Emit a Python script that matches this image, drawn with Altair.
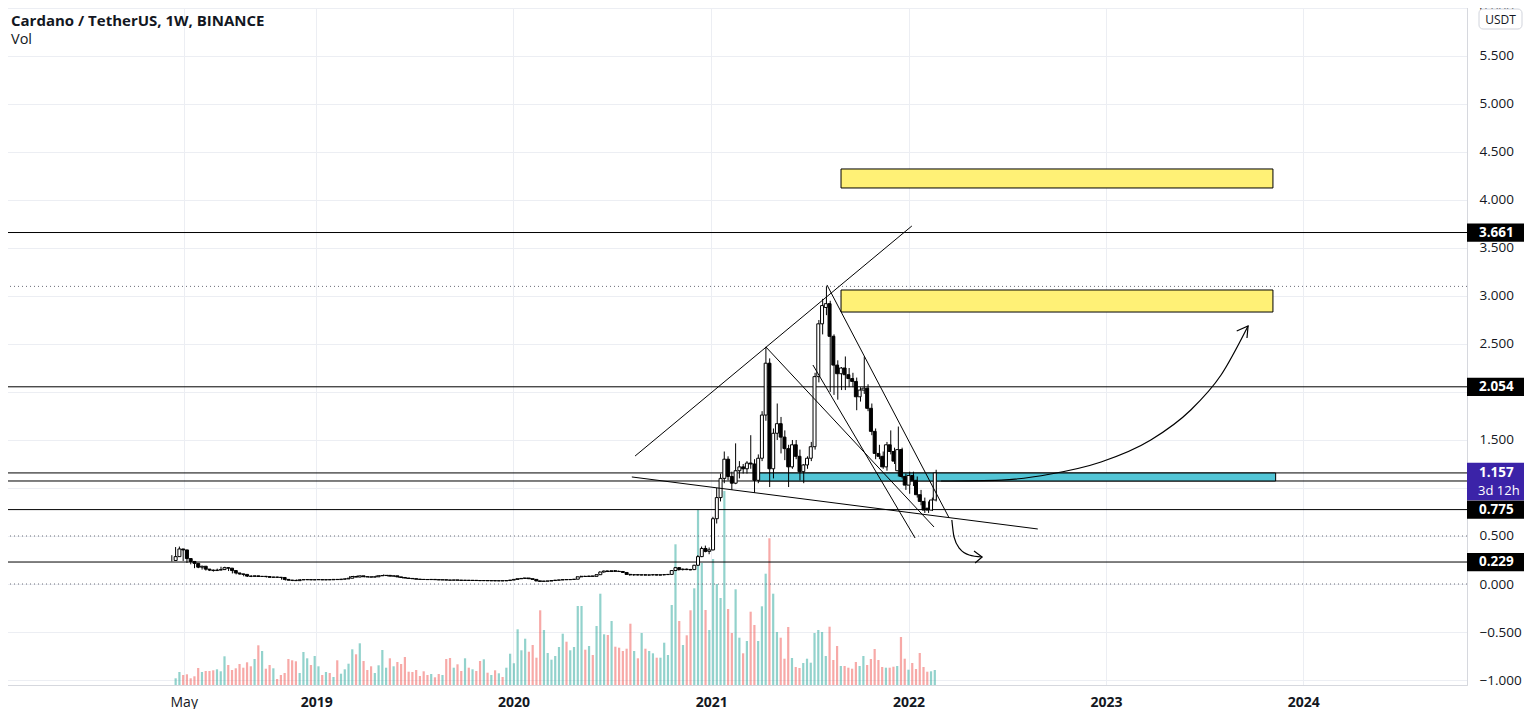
import altair as alt
import pandas as pd

TITLE = "Cardano / TetherUS, 1W, BINANCE"
SUBTITLE = "Vol"

# ---------------- weekly candles ----------------
open_ = [0.245,0.285,0.365,0.355,0.265,0.235,0.215,0.175,0.185,0.155,0.145,0.140,0.145,0.150,0.170,0.165,0.140,0.115,0.105,0.100,
         0.082,0.080,0.085,0.078,0.080,0.077,0.070,0.072,0.070,0.068,0.048,0.040,0.038,0.035,0.044,0.045,0.046,0.043,0.045,0.046,
         0.043,0.045,0.044,0.048,0.046,0.050,0.053,0.060,0.078,0.072,0.085,0.076,0.074,0.072,0.075,0.086,0.088,0.090,0.082,0.085,
         0.074,0.068,0.062,0.058,0.055,0.050,0.048,0.047,0.046,0.048,0.045,0.043,0.044,0.041,0.040,0.042,0.040,0.038,0.039,0.037,
         0.038,0.036,0.035,0.036,0.034,0.035,0.033,0.034,0.033,0.036,0.041,0.048,0.055,0.058,0.062,0.055,0.048,0.032,0.028,0.030,
         0.031,0.036,0.040,0.042,0.046,0.045,0.047,0.050,0.075,0.080,0.078,0.083,0.080,0.097,0.125,0.135,0.130,0.138,0.132,0.130,
         0.120,0.100,0.095,0.097,0.094,0.096,0.093,0.095,0.097,0.093,0.096,0.098,0.100,0.140,0.170,0.150,0.155,0.150,0.150,0.195,
         0.285,0.370,0.340,0.355,0.680,0.900,1.100,1.300,1.120,1.050,1.180,1.220,1.200,1.260,1.250,1.080,1.310,1.760,2.300,1.200,
         1.570,1.670,1.530,1.410,1.220,1.450,1.330,1.170,1.240,1.310,1.430,2.160,2.710,2.880,2.920,2.580,2.280,2.190,2.250,2.180,
         2.140,2.110,1.950,2.020,2.040,1.830,1.590,1.360,1.330,1.220,1.450,1.380,1.180,1.400,1.120,1.030,1.130,1.080,0.930,0.860,
         0.790,0.770,0.875]
high = [0.300,0.385,0.390,0.360,0.280,0.250,0.225,0.200,0.190,0.165,0.155,0.150,0.160,0.180,0.180,0.170,0.145,0.120,0.110,0.105,
        0.090,0.090,0.088,0.085,0.083,0.080,0.078,0.076,0.075,0.070,0.050,0.046,0.042,0.047,0.048,0.050,0.050,0.048,0.050,0.048,
        0.047,0.049,0.050,0.050,0.052,0.055,0.062,0.082,0.085,0.090,0.088,0.080,0.078,0.080,0.090,0.092,0.100,0.095,0.090,0.088,
        0.080,0.072,0.065,0.062,0.060,0.055,0.052,0.050,0.050,0.050,0.048,0.047,0.046,0.044,0.043,0.045,0.043,0.041,0.042,0.040,
        0.040,0.039,0.038,0.038,0.037,0.037,0.036,0.036,0.037,0.042,0.050,0.058,0.062,0.068,0.066,0.058,0.050,0.036,0.033,0.034,
        0.038,0.042,0.044,0.048,0.050,0.049,0.052,0.080,0.085,0.086,0.085,0.088,0.100,0.130,0.140,0.145,0.142,0.145,0.140,0.136,
        0.125,0.105,0.100,0.102,0.100,0.102,0.097,0.100,0.100,0.098,0.100,0.104,0.145,0.178,0.175,0.160,0.160,0.158,0.200,0.300,
        0.390,0.400,0.380,0.700,1.000,1.150,1.380,1.330,1.170,1.465,1.280,1.250,1.280,1.550,1.300,1.350,1.800,2.470,2.350,1.620,
        1.880,1.740,1.600,1.450,1.500,1.500,1.400,1.250,1.330,1.480,2.200,2.750,2.970,3.100,2.950,2.600,2.330,2.260,2.370,2.250,
        2.200,2.150,2.050,2.370,2.080,1.880,1.620,1.450,1.380,1.480,1.600,1.420,1.640,1.420,1.150,1.170,1.170,1.120,0.980,0.900,
        0.860,0.900,1.190]
low = [0.235,0.280,0.330,0.240,0.220,0.205,0.165,0.165,0.150,0.140,0.135,0.130,0.140,0.145,0.160,0.135,0.110,0.100,0.095,0.080,
       0.075,0.072,0.075,0.073,0.074,0.068,0.066,0.066,0.066,0.045,0.036,0.035,0.030,0.033,0.040,0.041,0.040,0.040,0.042,0.041,
       0.040,0.042,0.042,0.044,0.045,0.047,0.052,0.058,0.068,0.070,0.074,0.070,0.068,0.070,0.073,0.082,0.084,0.080,0.078,0.072,
       0.065,0.058,0.055,0.052,0.048,0.045,0.044,0.043,0.043,0.044,0.040,0.040,0.039,0.038,0.037,0.039,0.037,0.036,0.036,0.035,
       0.034,0.033,0.032,0.033,0.032,0.032,0.031,0.031,0.032,0.035,0.040,0.046,0.052,0.055,0.052,0.045,0.030,0.022,0.024,0.027,
       0.030,0.034,0.037,0.040,0.043,0.042,0.045,0.049,0.070,0.074,0.073,0.076,0.078,0.095,0.118,0.125,0.125,0.128,0.125,0.118,
       0.095,0.088,0.088,0.090,0.089,0.090,0.088,0.090,0.090,0.088,0.090,0.094,0.098,0.135,0.140,0.142,0.145,0.142,0.145,0.190,
       0.280,0.330,0.310,0.350,0.630,0.860,1.050,1.080,0.980,1.040,1.100,1.150,1.150,1.200,0.950,1.050,1.280,1.700,1.010,1.100,
       1.500,1.360,1.290,1.010,1.200,1.300,1.080,1.050,1.200,1.280,1.400,2.100,2.600,2.800,2.000,1.970,1.920,2.020,2.020,2.050,
       2.050,1.810,1.900,1.980,1.800,1.550,1.300,1.300,1.200,1.180,1.350,1.250,1.120,1.100,0.980,0.940,1.020,0.900,0.820,0.740,
       0.740,0.760,0.860]
close = [0.285,0.365,0.355,0.265,0.235,0.215,0.175,0.185,0.155,0.145,0.140,0.145,0.150,0.170,0.165,0.140,0.115,0.105,0.100,0.082,
         0.080,0.085,0.078,0.080,0.077,0.070,0.072,0.070,0.068,0.048,0.040,0.038,0.035,0.044,0.045,0.046,0.043,0.045,0.046,0.043,
         0.045,0.044,0.048,0.046,0.050,0.053,0.060,0.078,0.072,0.085,0.076,0.074,0.072,0.075,0.086,0.088,0.090,0.082,0.085,0.074,
         0.068,0.062,0.058,0.055,0.050,0.048,0.047,0.046,0.048,0.045,0.043,0.044,0.041,0.040,0.042,0.040,0.038,0.039,0.037,0.038,
         0.036,0.035,0.036,0.034,0.035,0.033,0.034,0.033,0.036,0.041,0.048,0.055,0.058,0.062,0.055,0.048,0.032,0.028,0.030,0.031,
         0.036,0.040,0.042,0.046,0.045,0.047,0.050,0.075,0.080,0.078,0.083,0.080,0.097,0.125,0.135,0.130,0.138,0.132,0.130,0.120,
         0.100,0.095,0.097,0.094,0.096,0.093,0.095,0.097,0.093,0.096,0.098,0.100,0.140,0.170,0.150,0.155,0.150,0.148,0.195,0.285,
         0.370,0.340,0.355,0.680,0.900,1.100,1.300,1.120,1.050,1.180,1.220,1.200,1.260,1.250,1.080,1.310,1.760,2.300,1.200,1.570,
         1.670,1.530,1.410,1.220,1.450,1.330,1.170,1.240,1.310,1.430,2.160,2.710,2.900,2.920,2.580,2.280,2.190,2.250,2.180,2.140,
         2.110,1.950,2.020,2.040,1.830,1.590,1.360,1.330,1.220,1.450,1.380,1.280,1.400,1.120,1.030,1.130,1.080,0.930,0.860,0.770,
         0.770,0.875,1.157]
volume = [6.7,13,10,10.7,6.7,8.7,17,13,14,14,14.7,15.7,13.7,28.7,20,15,16.7,21,17.3,22.7,
          18.7,26,39.7,34,16.3,20,16.7,6,10,12,26,24.7,23.7,12,33,26.7,20,29,18.7,10,
          13,12,8,24.7,11.3,15.7,21.3,35.7,30.7,41.7,24,15,18.7,12,19.7,35,17.3,26.7,18.7,23,
          21,28,13.3,13,15,9,13.7,10,11,7.7,11,10,26,27,17.3,20.7,
          14,26.7,17.3,15.7,14,24,25.7,12.3,10,14.7,11.7,8,17.3,31.3,21.7,55.7,34.7,46.3,33.3,40,
          27.3,74.7,55,32,25.3,29,38,51.3,43.3,34.7,38,79,79,35.3,39,30,59,91.3,50.7,50,
          64,38.3,37.3,34,36.3,61.3,34,26.7,52,36.3,34,31.7,27.3,27.3,42.3,30,80,140.7,64,40,
          49.7,74.7,96.7,
          175,122,75,55,126,101,87,194,
          76,52,95.7,47.3,31.7,44,73.3,60,44,78.7,111.3,146.7,91.3,53,47.3,26.3,58,27,18,17,
          22,26.3,22.3,52,55,53,29,58.3,25,39,19,19,17.3,16.3,23,19,29,20,26,36,
          25,18,17.3,17.3,18.3,19,48,26.3,15.3,22,16,32,18,13.3,13.7,15]

first_week = "2018-04-09"
dates = pd.date_range(first_week, periods=len(close), freq="7D").strftime("%Y-%m-%d").tolist()
df = pd.DataFrame({"date": dates, "open": open_, "high": high, "low": low,
                   "close": close, "volume": volume})

# ---------------- axes ----------------
x_domain = ["2017-05-28", "2024-10-30"]
y_domain = [-1.052, 6.083]
vol_domain = [0, 685]
x_tick_dates = ["2018-05-01", "2019-01-01", "2020-01-01", "2021-01-01", "2022-01-01", "2023-01-01", "2024-01-01"]
x_tick_labels = ["May", "2019", "2020", "2021", "2022", "2023", "2024"]
y_ticks = [-1.0, -0.5, 0.0, 0.5, 1.0, 1.5, 2.0, 2.5, 3.0, 3.5, 4.0, 4.5, 5.0, 5.5, 6.0]
y_ticks_hidden_by_tags = [1.0, 2.0]

# ---------------- drawings ----------------
solid_levels = [3.661, 2.054, 1.157, 1.073, 0.775, 0.229]
dotted_levels = [3.1, 0.5, 0.0]
tag_levels = [3.661, 2.054, 0.775, 0.229]
last_price = 1.157
countdown = "3d 12h"

rect_ids = ["zone_high", "zone_mid", "zone_support"]
rect_start = ["2021-08-29", "2021-08-29", "2021-03-30"]
rect_end = ["2023-11-06", "2023-11-06", "2023-11-11"]
rect_lo = [4.125, 2.833, 1.073]
rect_hi = [4.323, 3.0625, 1.156]
rect_fill = ["#fff176", "#fff176", "#52c5d6"]

trend_ids = ["channel_top", "wedge_a", "wedge_b", "wedge_c", "wedge_bottom"]
trend_d1 = ["2020-08-13", "2021-04-12", "2021-07-08", "2021-08-03", "2020-08-07"]
trend_p1 = [1.333, 2.469, 2.281, 3.115, 1.115]
trend_d2 = ["2022-01-07", "2022-02-17", "2022-01-13", "2022-03-17", "2022-08-28"]
trend_p2 = [3.729, 0.594, 0.479, 0.688, 0.573]

up_curve_dates = ["2022-03-02", "2022-06-21", "2022-09-21", "2022-12-23", "2023-03-25", "2023-06-07", "2023-08-02", "2023-09-21"]
up_curve_prices = [1.073, 1.083, 1.146, 1.271, 1.5, 1.8125, 2.177, 2.6875]
up_head_dates = ["2023-08-31", "2023-09-21", "2023-09-19"]
up_head_prices = [2.635, 2.6875, 2.5625]
down_curve_dates = ["2022-03-22", "2022-03-26", "2022-04-06", "2022-04-23", "2022-05-17"]
down_curve_prices = [0.667, 0.49, 0.365, 0.302, 0.281]
down_head_dates = ["2022-05-02", "2022-05-17", "2022-05-04"]
down_head_prices = [0.344, 0.281, 0.219]


def dt(s):
    y, m, d = (int(v) for v in s.split("-"))
    return alt.DateTime(year=y, month=m, date=d, utc=True)


x_label_expr = "''"
for d, lab in reversed(list(zip(x_tick_dates, x_tick_labels))):
    x_label_expr = f"(utcFormat(datum.value, '%Y-%m-%d') == '{d}') ? '{lab}' : {x_label_expr}"
y_label_expr = " || ".join(f"abs(datum.value - ({v})) < 1e-6" for v in y_ticks_hidden_by_tags)
y_label_expr = f"({y_label_expr}) ? '' : format(datum.value, '.3f')"

W, H = 1466, 685
FONT = "Open Sans"
TXT = "#131722"
GRID = "#eceef3"


def xsc():
    return alt.Scale(domain=[dt(x_domain[0]), dt(x_domain[1])])


def ysc():
    return alt.Scale(domain=y_domain, nice=False, zero=False)


xaxis = alt.Axis(values=[dt(d) for d in x_tick_dates], labelExpr=x_label_expr, title=None,
                 grid=True, gridColor=GRID, domainColor="#d6d8de", ticks=False,
                 labelPadding=10, labelFontSize=14, labelColor=TXT, labelFont=FONT,
                 labelFontWeight={"condition": {"test": "utcmonth(datum.value) == 4", "value": "normal"},
                                  "value": "bold"},
                 labelFlush=False, labelOverlap=False)
yaxis = alt.Axis(orient="right", values=y_ticks, labelExpr=y_label_expr, title=None, grid=True,
                 gridColor=GRID, domainColor="#d6d8de", ticks=False,
                 labelPadding=12, labelFontSize=13.5, labelColor=TXT, labelFont=FONT)


def X(f):
    return alt.X(f, scale=xsc(), axis=None)


def Y(f):
    return alt.Y(f, scale=ysc(), axis=None)


up_test = "datum.close >= datum.open"

vol = alt.Chart(df).mark_bar(width=2.2, opacity=0.5).encode(
    x=X("date:T"),
    y=alt.Y("volume:Q", scale=alt.Scale(domain=vol_domain, nice=False, zero=False), axis=None),
    color=alt.condition(up_test, alt.value("#26a69a"), alt.value("#ef5350")),
)

# the wick layer carries both axes
wick = alt.Chart(df).mark_rule(color="#000000", strokeWidth=1).encode(
    x=alt.X("date:T", scale=xsc(), axis=xaxis),
    y=alt.Y("low:Q", scale=ysc(), axis=yaxis), y2="high:Q")

hl = alt.Chart(pd.DataFrame({"price": solid_levels})).mark_rule(color="#000000", strokeWidth=1).encode(
    y=Y("price:Q"))
dl = alt.Chart(pd.DataFrame({"price": dotted_levels})).mark_rule(
    color="#6a6d78", strokeWidth=1, strokeDash=[1, 3]).encode(y=Y("price:Q"))

rect_df = pd.DataFrame({"id": rect_ids, "start": rect_start, "end": rect_end,
                        "lo": rect_lo, "hi": rect_hi, "fill": rect_fill})
rects = alt.Chart(rect_df).mark_rect(stroke="#000000", strokeWidth=1).encode(
    x=X("start:T"), x2="end:T", y=Y("lo:Q"), y2="hi:Q",
    fill=alt.Fill("fill:N", scale=None))

body = alt.Chart(df).mark_bar(width=3, stroke="#000000", strokeWidth=1).encode(
    x=X("date:T"), y=Y("open:Q"), y2="close:Q",
    fill=alt.condition(up_test, alt.value("#ffffff"), alt.value("#000000")))

trend_rows = []
for i, tid in enumerate(trend_ids):
    trend_rows.append({"id": tid, "ord": 0, "date": trend_d1[i], "price": trend_p1[i]})
    trend_rows.append({"id": tid, "ord": 1, "date": trend_d2[i], "price": trend_p2[i]})
trend = alt.Chart(pd.DataFrame(trend_rows)).mark_line(color="#000000", strokeWidth=1).encode(
    x=X("date:T"), y=Y("price:Q"), detail="id:N", order="ord:Q")


def path_df(name, ds, ps):
    return pd.DataFrame({"id": name, "ord": list(range(len(ds))), "date": ds, "price": ps})


curves_df = pd.concat([path_df("up", up_curve_dates, up_curve_prices),
                       path_df("down", down_curve_dates, down_curve_prices)])
curves = alt.Chart(curves_df).mark_line(color="#000000", strokeWidth=1.2, interpolate="monotone").encode(
    x=X("date:T"), y=Y("price:Q"), detail="id:N", order="ord:Q")
heads_df = pd.concat([path_df("uphead", up_head_dates, up_head_prices),
                      path_df("downhead", down_head_dates, down_head_prices)])
heads = alt.Chart(heads_df).mark_line(color="#000000", strokeWidth=1.2).encode(
    x=X("date:T"), y=Y("price:Q"), detail="id:N", order="ord:Q")

tag_df = pd.DataFrame({"price": tag_levels})
tag_box = alt.Chart(tag_df).transform_calculate(
    top="datum.price + 0.095", bot="datum.price - 0.095").mark_rect(color="#000000").encode(
    x=alt.value(W), x2=alt.value(W + 57), y=Y("top:Q"), y2="bot:Q")
tag_txt = alt.Chart(tag_df).mark_text(align="left", baseline="middle", color="#ffffff",
                                       font=FONT, fontSize=13.5, fontWeight="bold").encode(
    x=alt.value(W + 12), y=Y("price:Q"), text=alt.Text("price:Q", format=".3f"))

last_df = pd.DataFrame({"price": [last_price], "cd": [countdown]})
last_box = alt.Chart(last_df).transform_calculate(
    top="datum.price + 0.105", bot="datum.price - 0.285").mark_rect(color="#3b23a8").encode(
    x=alt.value(W), x2=alt.value(W + 57), y=Y("top:Q"), y2="bot:Q")
last_txt = alt.Chart(last_df).mark_text(align="left", baseline="middle", color="#ffffff",
                                         font=FONT, fontSize=13.5, fontWeight="bold").encode(
    x=alt.value(W + 12), y=Y("price:Q"), text=alt.Text("price:Q", format=".3f"))
last_cd = alt.Chart(last_df).transform_calculate(cdp="datum.price - 0.188").mark_text(
    align="left", baseline="middle", color="#ffffff", font=FONT, fontSize=13).encode(
    x=alt.value(W + 11), y=Y("cdp:Q"), text="cd:N")

unit_df = pd.DataFrame({"u": ["USDT"]})
unit_box = alt.Chart(unit_df).mark_rect(fill="#ffffff", stroke="#d1d4dc", cornerRadius=4).encode(
    x=alt.value(W + 12), x2=alt.value(W + 55), y=alt.value(9), y2=alt.value(29))
unit_txt = alt.Chart(unit_df).mark_text(align="center", baseline="middle", color=TXT,
                                         font=FONT, fontSize=12).encode(
    x=alt.value(W + 33.5), y=alt.value(19.5), text="u:N")

head_df = pd.DataFrame({"t": [TITLE], "s": [SUBTITLE]})
title_txt = alt.Chart(head_df).mark_text(align="left", baseline="middle", color=TXT, font=FONT,
                                          fontSize=15, fontWeight="bold").encode(
    x=alt.value(10), y=alt.value(21), text="t:N")
sub_txt = alt.Chart(head_df).mark_text(align="left", baseline="middle", color=TXT, font=FONT,
                                        fontSize=14.5).encode(
    x=alt.value(10), y=alt.value(40), text="s:N")

chart = alt.layer(
    vol, hl, dl, rects, wick, body, trend, curves, heads,
    tag_box, tag_txt, last_box, last_txt, last_cd,
    unit_box, unit_txt, title_txt, sub_txt
).resolve_scale(x="independent", y="independent").properties(
    width=W, height=H, padding={"left": -8, "top": -8, "right": 0, "bottom": 0}
).configure_view(strokeWidth=0).configure(font=FONT)

chart.save("out.html", embed_options={"renderer": "svg", "actions": False})
